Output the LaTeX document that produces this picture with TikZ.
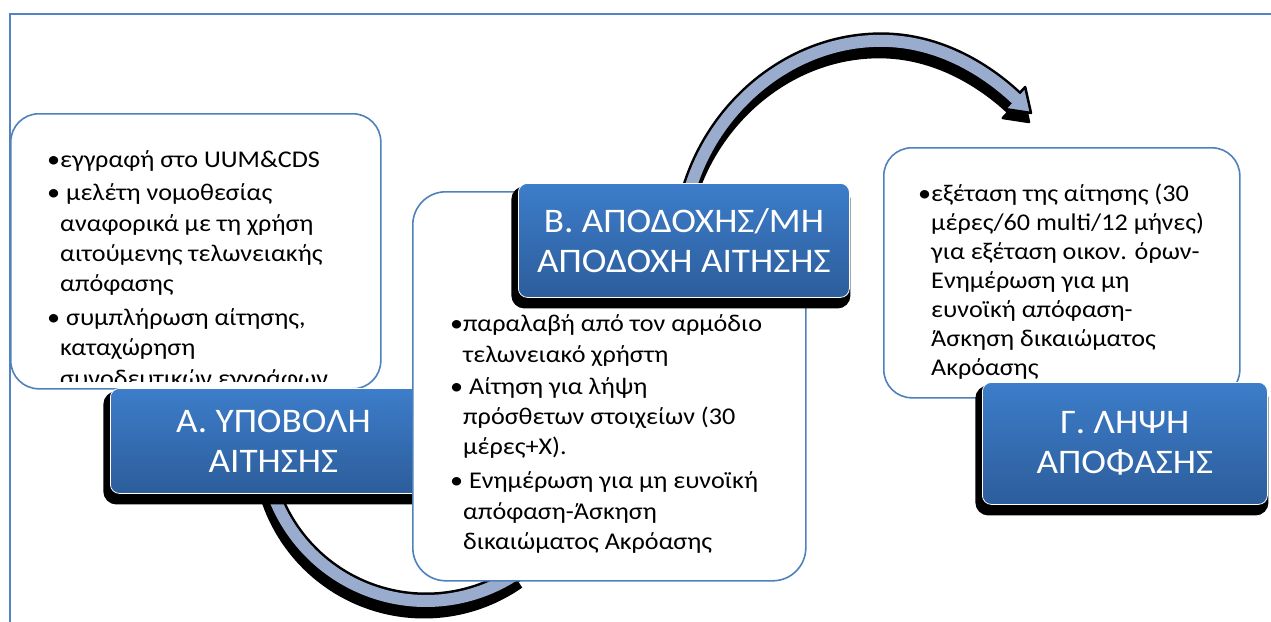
\documentclass[tikz,border=0pt]{standalone}
\usepackage{fontspec}
\setmainfont{Carlito}
\newfontfamily\bodyfont{Carlito}[FakeStretch=1.09]
\newfontfamily\titlefont{Carlito}[FakeStretch=1.08]
\definecolor{frameblue}{HTML}{5383C3}
\definecolor{boxblue}{HTML}{4F81BD}
\definecolor{titletop}{HTML}{3D7DCA}
\definecolor{titlebot}{HTML}{2C5D9B}
\definecolor{bandfill}{HTML}{9AACCD}
\begin{document}
\begin{tikzpicture}[x=1pt,y=-1pt,
  textbox/.style={draw=boxblue, line width=1.6pt, fill=white, rounded corners=28pt, anchor=north west, inner sep=0pt},
  titlebox/.style={draw=white, line width=0.8pt, top color=titletop, bottom color=titlebot, rounded corners=9pt, anchor=north west, inner sep=0pt, text=white, align=center, font=\titlefont\fontsize{34.5}{40}\selectfont, preaction={draw=black, fill=black, line width=8pt, transform canvas={xshift=-3pt, yshift=-7pt}}},
  bodytext/.style={anchor=base west, inner sep=0pt, font=\bodyfont\fontsize{24}{30.3}\selectfont},
  bandline/.style={line width=17pt, draw=black},
  bandfillst/.style={line width=12pt, draw=bandfill},
  headst/.style={fill=bandfill, draw=black, line width=2.5pt, line join=round},
]
\path[use as bounding box] (0,0) rectangle (1271,621);
\clip (0,0) rectangle (1271,621);
\fill[white] (0,0) rectangle (1271,621);
% frame
\draw[frameblue, line width=2pt] (10,700) -- (10,14) -- (1300,14);
% lower band
\begin{scope}[shift={(-2,9)}]
  \draw[bandline] ([shift={(426,438)}]170:163) arc[start angle=170, end angle=55, radius=163];
\end{scope}
\draw[bandline] ([shift={(426,438)}]170:163) arc[start angle=170, end angle=55, radius=163];
\draw[bandfillst] ([shift={(426,438)}]170:163) arc[start angle=170, end angle=55, radius=163];
% upper band
\begin{scope}[shift={(-2,9)}]
  \draw[bandline] (684,215) .. controls (700,120) and (780,45) .. (873,41) .. controls (935,38) and (985,70) .. (1015,98);
  \fill[black] (1025.2,87) -- (1031,113) -- (1004.8,109) -- cycle;
  \draw[black, line width=2.5pt, line join=round] (1025.2,87) -- (1031,113) -- (1004.8,109) -- cycle;
\end{scope}
\draw[bandline] (684,215) .. controls (700,120) and (780,45) .. (873,41) .. controls (935,38) and (985,70) .. (1015,98);
\draw[headst] (1025.2,87) -- (1031,113) -- (1004.8,109) -- cycle;
\draw[bandfillst] (684,215) .. controls (700,120) and (780,45) .. (873,41) .. controls (935,38) and (985,70) .. (1015,98) -- (1018,100.7);
% box A
\node[textbox, minimum width=370pt, minimum height=275pt] (bA) at (10,113) {};
\begin{scope}
\clip (0,0) rectangle (1271,381);
\node[bodytext] (tA) at (47,167) {\begin{tabular}[t]{@{}l@{}}
•εγγραφή στο UUM\&CDS\\[3.5pt]
• μελέτη νομοθεσίας\\
\phantom{•}αναφορικά με τη χρήση\\
\phantom{•}αιτούμενης τελωνειακής\\
\phantom{•}απόφασης\\[3.5pt]
• συμπλήρωση αίτησης,\\
\phantom{•}καταχώρηση\\
\phantom{•}συνοδευτικών εγγράφων
\end{tabular}};
\end{scope}
\node[titlebox, minimum width=326pt, minimum height=105pt] (hA) at (110,388) {Α. ΥΠΟΒΟΛΗ\\ΑΙΤΗΣΗΣ};
% box B
\node[textbox, minimum width=393pt, minimum height=389pt, rounded corners=33pt] (bB) at (412,191) {};
\node[bodytext] (tB) at (450,331.7) {\begin{tabular}[t]{@{}l@{}}
•παραλαβή από τον αρμόδιο\\
\phantom{•}τελωνειακό χρήστη\\[2pt]
• Αίτηση για λήψη\\
\phantom{•}πρόσθετων στοιχείων (30\\
\phantom{•}μέρες+X).\\[3.5pt]
• Ενημέρωση για μη ευνοϊκή\\
\phantom{•}απόφαση-Άσκηση\\
\phantom{•}δικαιώματος Ακρόασης
\end{tabular}};
\node[titlebox, minimum width=331pt, minimum height=114pt] (hB) at (518,183) {Β. ΑΠΟΔΟΧΗΣ/ΜΗ\\ΑΠΟΔΟΧΗ ΑΙΤΗΣΗΣ};
% box C
\node[textbox, minimum width=356pt, minimum height=250pt] (bC) at (883,147) {};
\begin{scope}
\clip (0,0) rectangle (1271,380);
\node[bodytext, font=\bodyfont\fontsize{24}{28.9}\selectfont] (tC) at (918,201.7) {\begin{tabular}[t]{@{}l@{}}
•εξέταση της αίτησης (30\\
\phantom{•}μέρες/60 multi/12 μήνες)\\
\phantom{•}για εξέταση οικον. όρων-\\
\phantom{•}Ενημέρωση για μη\\
\phantom{•}ευνοϊκή απόφαση-\\
\phantom{•}Άσκηση δικαιώματος\\
\phantom{•}Ακρόασης
\end{tabular}};
\end{scope}
\node[titlebox, minimum width=285pt, minimum height=122pt] (hC) at (982,382) {Γ. ΛΗΨΗ\\ΑΠΟΦΑΣΗΣ};
\end{tikzpicture}
\end{document}
